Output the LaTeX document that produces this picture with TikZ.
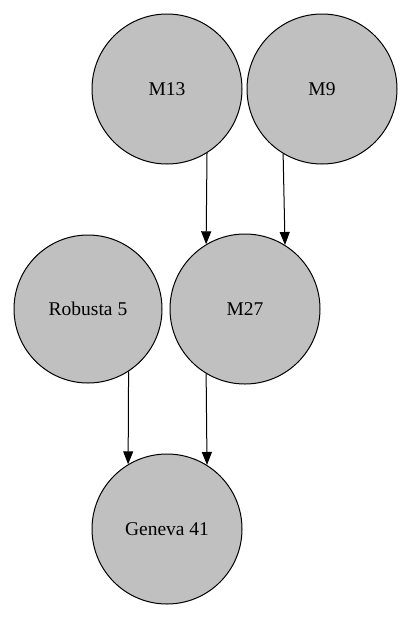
\documentclass[tikz,border=0pt]{standalone}
\usepackage{fontspec}
\setmainfont{Liberation Serif}
\usetikzlibrary{arrows.meta}
\begin{document}
\begin{tikzpicture}[x=1pt,y=-1pt,
  cnode/.style={circle,draw=black,fill={rgb,255:red,192;green,192;blue,192},line width=1pt,minimum size=150pt,inner sep=0pt,font=\fontsize{19.5}{23}\selectfont},
  edge/.style={draw=black,line width=1pt,-{Triangle[length=13pt,width=10pt]}}]
\useasboundingbox (0,0) rectangle (417,622);
\node[cnode] (m13) at (167,89) {M13};
\node[cnode] (m9) at (322,89) {M9};
\node[cnode,minimum size=148pt] (rob) at (88,309) {Robusta 5};
\node[cnode] (m27) at (245,309) {M27};
\node[cnode] (gen) at (167,529) {Geneva 41};
\draw[edge] (m13.-58.6) -- (m27.121.4);
\draw[edge] (m9.-121) -- (m27.58.6);
\draw[edge] (rob.-57.3) -- (gen.121.4);
\draw[edge] (m27.-121.4) -- (gen.58.6);
\end{tikzpicture}
\end{document}
